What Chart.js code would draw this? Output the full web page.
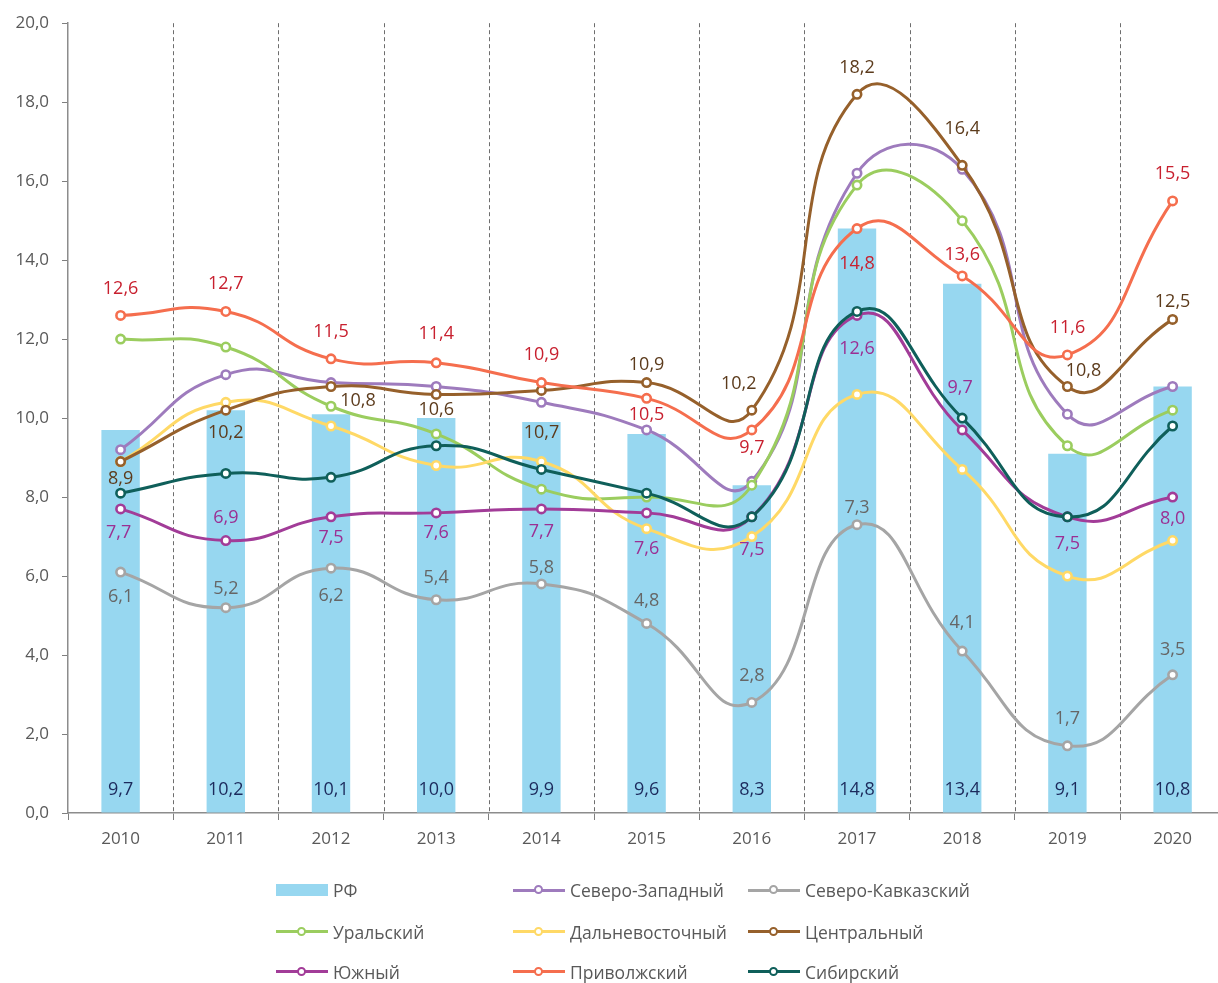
<!DOCTYPE html>
<html>
<head>
<meta charset="utf-8">
<script src="https://cdn.jsdelivr.net/npm/chart.js@4.4.0/dist/chart.umd.min.js"></script>
<style>
  html, body { margin: 0; padding: 0; background: #fff; overflow: hidden; }
  #wrap { position: relative; width: 1232px; height: 983px; font-family: 'Open Sans', sans-serif; }
  #legend { position: absolute; left: 0; top: 0; width: 1232px; height: 983px; pointer-events: none; }
  .item { position: absolute; display: flex; align-items: center; height: 24px; font-size: 17.5px; color: #595959; white-space: nowrap; }
  .sw { position: relative; width: 52px; height: 24px; margin-right: 5px; }
  .sw .ln { position: absolute; left: 0; right: 0; top: 10.5px; height: 3px; }
  .sw .dot { position: absolute; left: 21px; top: 7px; width: 5px; height: 5px; border-radius: 50%; background: #fff; border: 2.5px solid; }
  .sw .box { position: absolute; left: 0; right: 0; top: 6px; height: 12px; }
</style>
</head>
<body>
<div id="wrap">
  <canvas id="chart" width="1232" height="860"></canvas>
  <div id="legend"></div>
</div>
<script>
const years = ['2010', '2011', '2012', '2013', '2014', '2015', '2016', '2017', '2018', '2019', '2020']
const yTicks = [0, 2, 4, 6, 8, 10, 12, 14, 16, 18, 20]

const rf = [9.7, 10.2, 10.1, 10.0, 9.9, 9.6, 8.3, 14.8, 13.4, 9.1, 10.8]
const szfo = [9.2, 11.1, 10.9, 10.8, 10.4, 9.7, 8.4, 16.2, 16.3, 10.1, 10.8]
const skfo = [6.1, 5.2, 6.2, 5.4, 5.8, 4.8, 2.8, 7.3, 4.1, 1.7, 3.5]
const ufo = [12.0, 11.8, 10.3, 9.6, 8.2, 8.0, 8.3, 15.9, 15.0, 9.3, 10.2]
const dfo = [8.9, 10.4, 9.8, 8.8, 8.9, 7.2, 7.0, 10.6, 8.7, 6.0, 6.9]
const cfo = [8.9, 10.2, 10.8, 10.6, 10.7, 10.9, 10.2, 18.2, 16.4, 10.8, 12.5]
const yufo = [7.7, 6.9, 7.5, 7.6, 7.7, 7.6, 7.5, 12.6, 9.7, 7.5, 8.0]
const pfo = [12.6, 12.7, 11.5, 11.4, 10.9, 10.5, 9.7, 14.8, 13.6, 11.6, 15.5]
const sfo = [8.1, 8.6, 8.5, 9.3, 8.7, 8.1, 7.5, 12.7, 10.0, 7.5, 9.8]

// label offsets (px) from each point, for the series that show values
const skfoLabelPos = [[0, 25], [0, -19], [0, 28], [0, -22], [0, -16], [0, -23], [0, -27], [0, -17], [0, -28], [0, -27], [0, -25]]
const cfoLabelPos = [[0, 17], [0, 23], [27, 14], [0, 15], [0, 42], [0, -18], [-13, -26], [0, -26], [0, -36], [16, -16], [0, -18]]
const yufoLabelPos = [[-2, 24], [0, -23], [0, 21], [0, 20], [0, 23], [0, 36], [0, 33], [0, 33], [-2, -42], [0, 27], [0, 22]]
const pfoLabelPos = [[0, -27], [0, -28], [0, -27], [0, -29], [0, -28], [0, 17], [0, 18], [0, 35], [0, -21], [0, -27], [0, -27]]

const fmt = v => v.toFixed(1).replace('.', ',')

const lines = [
  { label: 'Северо-Западный', data: szfo, color: '#9e7bbd' },
  { label: 'Северо-Кавказский', data: skfo, color: '#a5a5a5', labelColor: '#666666', labelPos: skfoLabelPos },
  { label: 'Уральский', data: ufo, color: '#9bcd5f' },
  { label: 'Дальневосточный', data: dfo, color: '#ffd966' },
  { label: 'Центральный', data: cfo, color: '#96602b', labelColor: '#5c3b1c', labelPos: cfoLabelPos },
  { label: 'Южный', data: yufo, color: '#a23c98', labelColor: '#9b2f93', labelPos: yufoLabelPos },
  { label: 'Приволжский', data: pfo, color: '#f56e4e', labelColor: '#c8202f', labelPos: pfoLabelPos },
  { label: 'Сибирский', data: sfo, color: '#0f5f5a' }
]

const datasets = [{
  type: 'bar',
  label: 'РФ',
  data: rf,
  backgroundColor: '#97d7f0',
  barPercentage: 0.365,
  categoryPercentage: 1,
  order: 100,
  labelColor: '#1c2a5c'
}]

lines.forEach((s, i) => {
  datasets.push({
    type: 'line',
    label: s.label,
    data: s.data,
    borderColor: s.color,
    backgroundColor: s.color,
    borderWidth: 3,
    tension: 0.5,
    pointRadius: 4.2,
    pointBorderWidth: 2.6,
    pointBorderColor: s.color,
    pointBackgroundColor: '#ffffff',
    order: 20 - i,
    labelColor: s.labelColor,
    labelPos: s.labelPos
  })
})

const separators = {
  id: 'separators',
  beforeDatasetsDraw(chart) {
    const { ctx, chartArea, scales } = chart
    const step = scales.x.getPixelForValue(1) - scales.x.getPixelForValue(0)
    ctx.save()
    ctx.strokeStyle = '#6d6d6d'
    ctx.lineWidth = 1
    ctx.setLineDash([4, 3])
    for (let i = 0; i < years.length; i++) {
      const x = Math.round(scales.x.getPixelForValue(i) + step / 2) + 0.5
      ctx.beginPath()
      ctx.moveTo(x, chartArea.top)
      ctx.lineTo(x, chartArea.bottom)
      ctx.stroke()
    }
    ctx.restore()
  }
}

const valueLabels = {
  id: 'valueLabels',
  afterDatasetsDraw(chart) {
    const ctx = chart.ctx
    ctx.save()
    ctx.font = '18px "Open Sans"'
    ctx.textAlign = 'center'
    ctx.textBaseline = 'middle'
    chart.data.datasets.forEach((ds, i) => {
      const meta = chart.getDatasetMeta(i)
      if (ds.type === 'bar') {
        ctx.fillStyle = ds.labelColor
        meta.data.forEach((el, j) => ctx.fillText(fmt(ds.data[j]), el.x, chart.scales.y.bottom - 23))
        return
      }
      if (!ds.labelPos) return
      ctx.fillStyle = ds.labelColor
      meta.data.forEach((el, j) => {
        const p = ds.labelPos[j]
        ctx.fillText(fmt(ds.data[j]), el.x + p[0], el.y + p[1])
      })
    })
    ctx.restore()
  }
}

new Chart(document.getElementById('chart').getContext('2d'), {
  data: { labels: years, datasets: datasets },
  options: {
    responsive: false,
    animation: false,
    layout: { padding: { top: 21, right: 0, left: 0, bottom: 0 } },
    plugins: { legend: { display: false }, tooltip: { enabled: false } },
    scales: {
      x: {
        offset: true,
        grid: { offset: true, drawOnChartArea: false, drawTicks: true, tickLength: 7, color: '#7f7f7f' },
        border: { color: '#8c8c8c', width: 1.5 },
        ticks: { color: '#595959', font: { family: 'Open Sans', size: 17 }, padding: 9, maxRotation: 0 },
        afterFit: scale => { scale.height = 47 }
      },
      y: {
        min: 0,
        max: 20,
        afterBuildTicks: scale => { scale.ticks = yTicks.map(v => ({ value: v })) },
        grid: { drawOnChartArea: false, drawTicks: true, tickLength: 6, color: '#7f7f7f' },
        border: { color: '#8c8c8c', width: 1.5 },
        ticks: { color: '#595959', font: { family: 'Open Sans', size: 17 }, padding: 13, callback: v => fmt(v) },
        afterFit: scale => { scale.width = 68 }
      }
    }
  },
  plugins: [separators, valueLabels]
})

// legend: 3 columns x 3 rows, same order as the datasets
const legend = document.getElementById('legend')
const colLeft = [276, 513, 748]
const rowTop = [878, 919.5, 959.5]
datasets.forEach((ds, i) => {
  const item = document.createElement('div')
  item.className = 'item'
  item.style.left = colLeft[i % 3] + 'px'
  item.style.top = rowTop[Math.floor(i / 3)] + 'px'
  const sw = document.createElement('div')
  sw.className = 'sw'
  if (ds.type === 'bar') {
    const box = document.createElement('div')
    box.className = 'box'
    box.style.background = ds.backgroundColor
    sw.appendChild(box)
  } else {
    const ln = document.createElement('div')
    ln.className = 'ln'
    ln.style.background = ds.borderColor
    const dot = document.createElement('div')
    dot.className = 'dot'
    dot.style.borderColor = ds.borderColor
    sw.appendChild(ln)
    sw.appendChild(dot)
  }
  const txt = document.createElement('span')
  txt.textContent = ds.label
  item.appendChild(sw)
  item.appendChild(txt)
  legend.appendChild(item)
})
</script>
</body>
</html>
